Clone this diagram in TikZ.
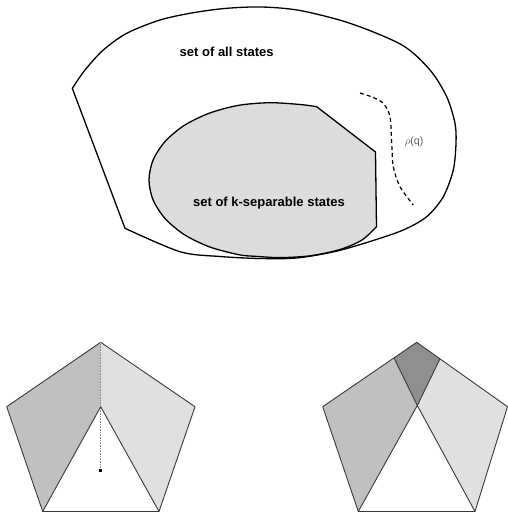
\documentclass[tikz,border=0pt]{standalone}
\usepackage{fontspec}
\setmainfont{Liberation Sans}
\definecolor{innergray}{HTML}{DCDCDC}
\definecolor{midgray}{HTML}{C0C0C0}
\definecolor{lightgray2}{HTML}{E0E0E0}
\definecolor{darkgray2}{HTML}{8F8F8F}
\definecolor{edgegray}{HTML}{3A3A3A}
\begin{document}
\begin{tikzpicture}[x=1pt,y=-1pt,
  setline/.style={draw=black,line width=1.3pt,line join=round},
  edgeline/.style={draw=edgegray,line width=0.9pt,line join=round},
  setlabel/.style={font=\fontsize{13}{15}\selectfont\bfseries,anchor=base,inner sep=0pt},
  rholabel/.style={font=\fontsize{10.5}{12}\selectfont,text=black!65,inner sep=0pt},
  boundary/.style={draw=black,line width=1.2pt,dash pattern=on 4pt off 3pt}]
\useasboundingbox (0,0) rectangle (508,512);
% outer set
\draw[setline] plot[smooth] coordinates {(72.3,88.3) (85,70) (103.3,50) (126.7,33.3) (160,20) (193.3,12.7) (226.7,8.3) (262,7) (300,10.5) (350,23.3) (402,45) (430,70) (446.7,96.7) (455,123.3) (456,143.3) (453.3,170) (443.3,196.7) (426.7,216.7) (403.3,230) (370,241.5) (335,251.5) (296.7,258) (260,258.5) (220,256.5) (180,251.7) (125,228.3)} -- cycle;
% inner set
\draw[setline,fill=innergray] (316.7,106.7) -- (375.5,152) --
  plot[smooth] coordinates {(376.5,226.7) (362,240) (340,249.5) (310,255.8) (280,257.6) (255,256.3) (238.7,254.7) (209.5,246.9) (184.4,234.7) (165.2,218.65) (153.1,200) (149,180) (153.1,160) (165.2,141.35) (184.4,125.3) (209.5,113.1) (238.7,105.3) (270,102.7) (301.3,104.6) (316.7,106.7)} -- cycle;
% dashed boundary
\draw[boundary] plot[smooth] coordinates {(360,93) (372,97) (383.3,103.3) (390,116.7) (391.7,143.3) (393.3,166.7) (400,186.7) (413.3,205)};
\node[setlabel] (all) at (226.7,56) {set of all states};
\node[setlabel] (sep) at (269,206) {set of k-separable states};
\node[rholabel] (rho) at (414,142) {$\rho$(q)};
% left pentagon
\coordinate (T) at (100.7,342.3);
\coordinate (L) at (6.7,406.7);
\coordinate (R) at (195,406.7);
\coordinate (BL) at (42.7,511.5);
\coordinate (BR) at (159,511.5);
\coordinate (I) at (100.7,406.7);
\coordinate (S) at (100.7,470.7);
\fill[midgray] (T) -- (L) -- (BL) -- (I) -- cycle;
\fill[lightgray2] (T) -- (R) -- (BR) -- (I) -- cycle;
\draw[edgeline] (T) -- (L) -- (BL) -- (BR) -- (R) -- cycle;
\draw[edgeline] (BL) -- (I) -- (BR);
\draw[black!45,line width=0.9pt,dash pattern=on 1pt off 0.6pt] (T) -- (S);
\fill[black] ([xshift=-1.5pt,yshift=-1.5pt]S) rectangle ([xshift=1.5pt,yshift=1.5pt]S);
% right pentagon
\coordinate (T2) at (416.7,342.3);
\coordinate (L2) at (322.7,406.7);
\coordinate (R2) at (507.5,406.7);
\coordinate (BL2) at (358.3,511.5);
\coordinate (BR2) at (475,511.5);
\coordinate (I2) at (417.3,405.5);
\coordinate (A2) at (394,357.9);
\coordinate (B2) at (440,358.8);
\fill[darkgray2] (T2) -- (A2) -- (I2) -- (B2) -- cycle;
\fill[midgray] (A2) -- (L2) -- (BL2) -- (I2) -- cycle;
\fill[lightgray2] (B2) -- (R2) -- (BR2) -- (I2) -- cycle;
\draw[edgeline] (T2) -- (L2) -- (BL2) -- (BR2) -- (R2) -- cycle;
\draw[edgeline] (BL2) -- (I2) -- (BR2);
\draw[edgeline] (A2) -- (I2) -- (B2);
\end{tikzpicture}
\end{document}
